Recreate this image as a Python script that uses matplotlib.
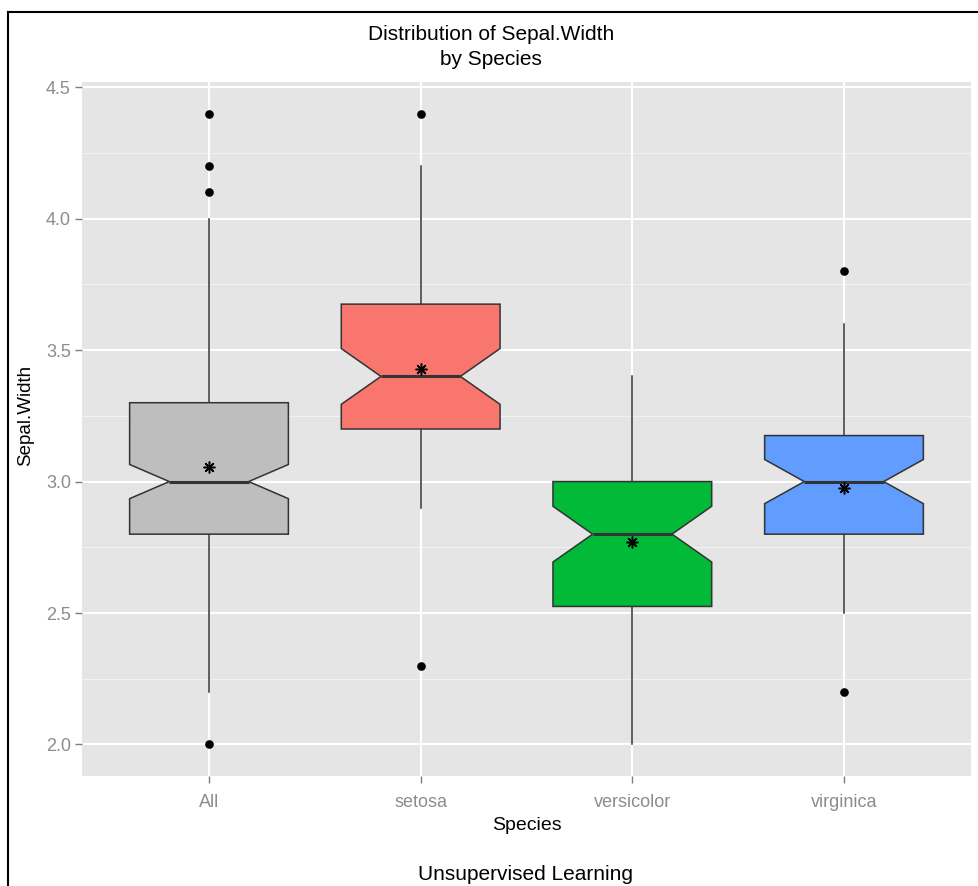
import matplotlib
matplotlib.use("Agg")
import matplotlib.pyplot as plt
from matplotlib.lines import Line2D

plt.rcParams["font.family"] = ["Liberation Sans", "DejaVu Sans"]

# box statistics (Sepal.Width by Species)
species = ["All", "setosa", "versicolor", "virginica"]
q1 = [2.8, 3.2, 2.525, 2.8]
med = [3.0, 3.4, 2.8, 3.0]
q3 = [3.3, 3.675, 3.0, 3.175]
whis_lo = [2.2, 2.9, 2.0, 2.5]
whis_hi = [4.0, 4.2, 3.4, 3.6]
notch_lo = [2.935, 3.294, 2.694, 2.916]
notch_hi = [3.065, 3.506, 2.906, 3.084]
means = [3.057, 3.428, 2.770, 2.974]
outliers = [[2.0, 4.1, 4.2, 4.4], [2.3, 4.4], [], [2.2, 3.8]]
fills = ["#BEBEBE", "#F8766D", "#00BA38", "#619CFF"]

stats = []
for i, name in enumerate(species):
    stats.append(dict(label=name, q1=q1[i], med=med[i], q3=q3[i],
                      whislo=whis_lo[i], whishi=whis_hi[i],
                      cilo=notch_lo[i], cihi=notch_hi[i],
                      mean=means[i], fliers=outliers[i]))

W, H = 979, 886
fig = plt.figure(figsize=(W / 100, H / 100), dpi=100)
ax = fig.add_axes([82 / W, 1 - 776 / H, (971 - 82) / W, (776 - 82) / H])
ax.set_facecolor("#E5E5E5")
for s in ax.spines.values():
    s.set_visible(False)

pos = list(range(1, len(species) + 1))

# grid: minor first, then major
for y in [2.25, 2.75, 3.25, 3.75, 4.25]:
    ax.axhline(y, color="#F2F2F2", lw=0.8, zorder=0)
for y in [2.0, 2.5, 3.0, 3.5, 4.0, 4.5]:
    ax.axhline(y, color="white", lw=1.5, zorder=0)
for x in pos:
    ax.axvline(x, color="white", lw=1.5, zorder=0)

bp = ax.bxp(stats, positions=pos, widths=0.75, shownotches=True, patch_artist=True,
            showcaps=False, showmeans=True, showfliers=True,
            boxprops=dict(edgecolor="#333333", linewidth=1.1),
            medianprops=dict(color="#333333", linewidth=2.2),
            whiskerprops=dict(color="#333333", linewidth=1.1),
            meanprops=dict(marker=(8, 2, 0), markersize=8.5, markeredgecolor="black",
                           markeredgewidth=1.1, markerfacecolor="black"),
            flierprops=dict(marker="o", markersize=5.2, markerfacecolor="black",
                            markeredgecolor="black", linestyle="none"))
for patch, c in zip(bp["boxes"], fills):
    patch.set_facecolor(c)
for artist in bp["boxes"] + bp["medians"] + bp["means"] + bp["fliers"]:
    artist.set_zorder(3)
for w in bp["whiskers"]:
    w.set_zorder(2)

ax.set_xlim(0.4, len(species) + 0.6)
ax.set_ylim(1.88, 4.52)
ax.set_xticks(pos)
ax.set_xticklabels(species)
ax.set_yticks([2.0, 2.5, 3.0, 3.5, 4.0, 4.5])
ax.set_yticklabels(["2.0", "2.5", "3.0", "3.5", "4.0", "4.5"])
ax.tick_params(colors="#7F7F7F", labelcolor="#8C8C8C", labelsize=13,
               length=5, width=1.0)
ax.tick_params(axis="x", pad=8)
ax.tick_params(axis="y", pad=3)

ax.set_ylabel("Sepal.Width", fontsize=13.5, color="black")
ax.yaxis.set_label_coords((26 - 82) / 889, (776 - 415) / 694)
ax.yaxis.label.set_va("center")
ax.set_xlabel("Species", fontsize=14, color="black")
ax.xaxis.set_label_coords(0.5, (776 - 826) / 694)
ax.xaxis.label.set_va("center")

fig.text(491 / W, 1 - 47 / H, "Distribution of Sepal.Width\nby Species",
         ha="center", va="center", fontsize=15, linespacing=1.42)
fig.text(526 / W, 1 - 874 / H, "Unsupervised Learning", ha="center",
         va="center", fontsize=15)

# outer frame (top and left edges visible in the reference)
fig.add_artist(Line2D([8 / W, 8 / W], [-0.01, 1 - 12 / H], color="black", lw=1.5))
fig.add_artist(Line2D([8 / W, 1.01], [1 - 12 / H, 1 - 12 / H], color="black", lw=1.5))

fig.savefig("out.png", dpi=100, facecolor="white")
